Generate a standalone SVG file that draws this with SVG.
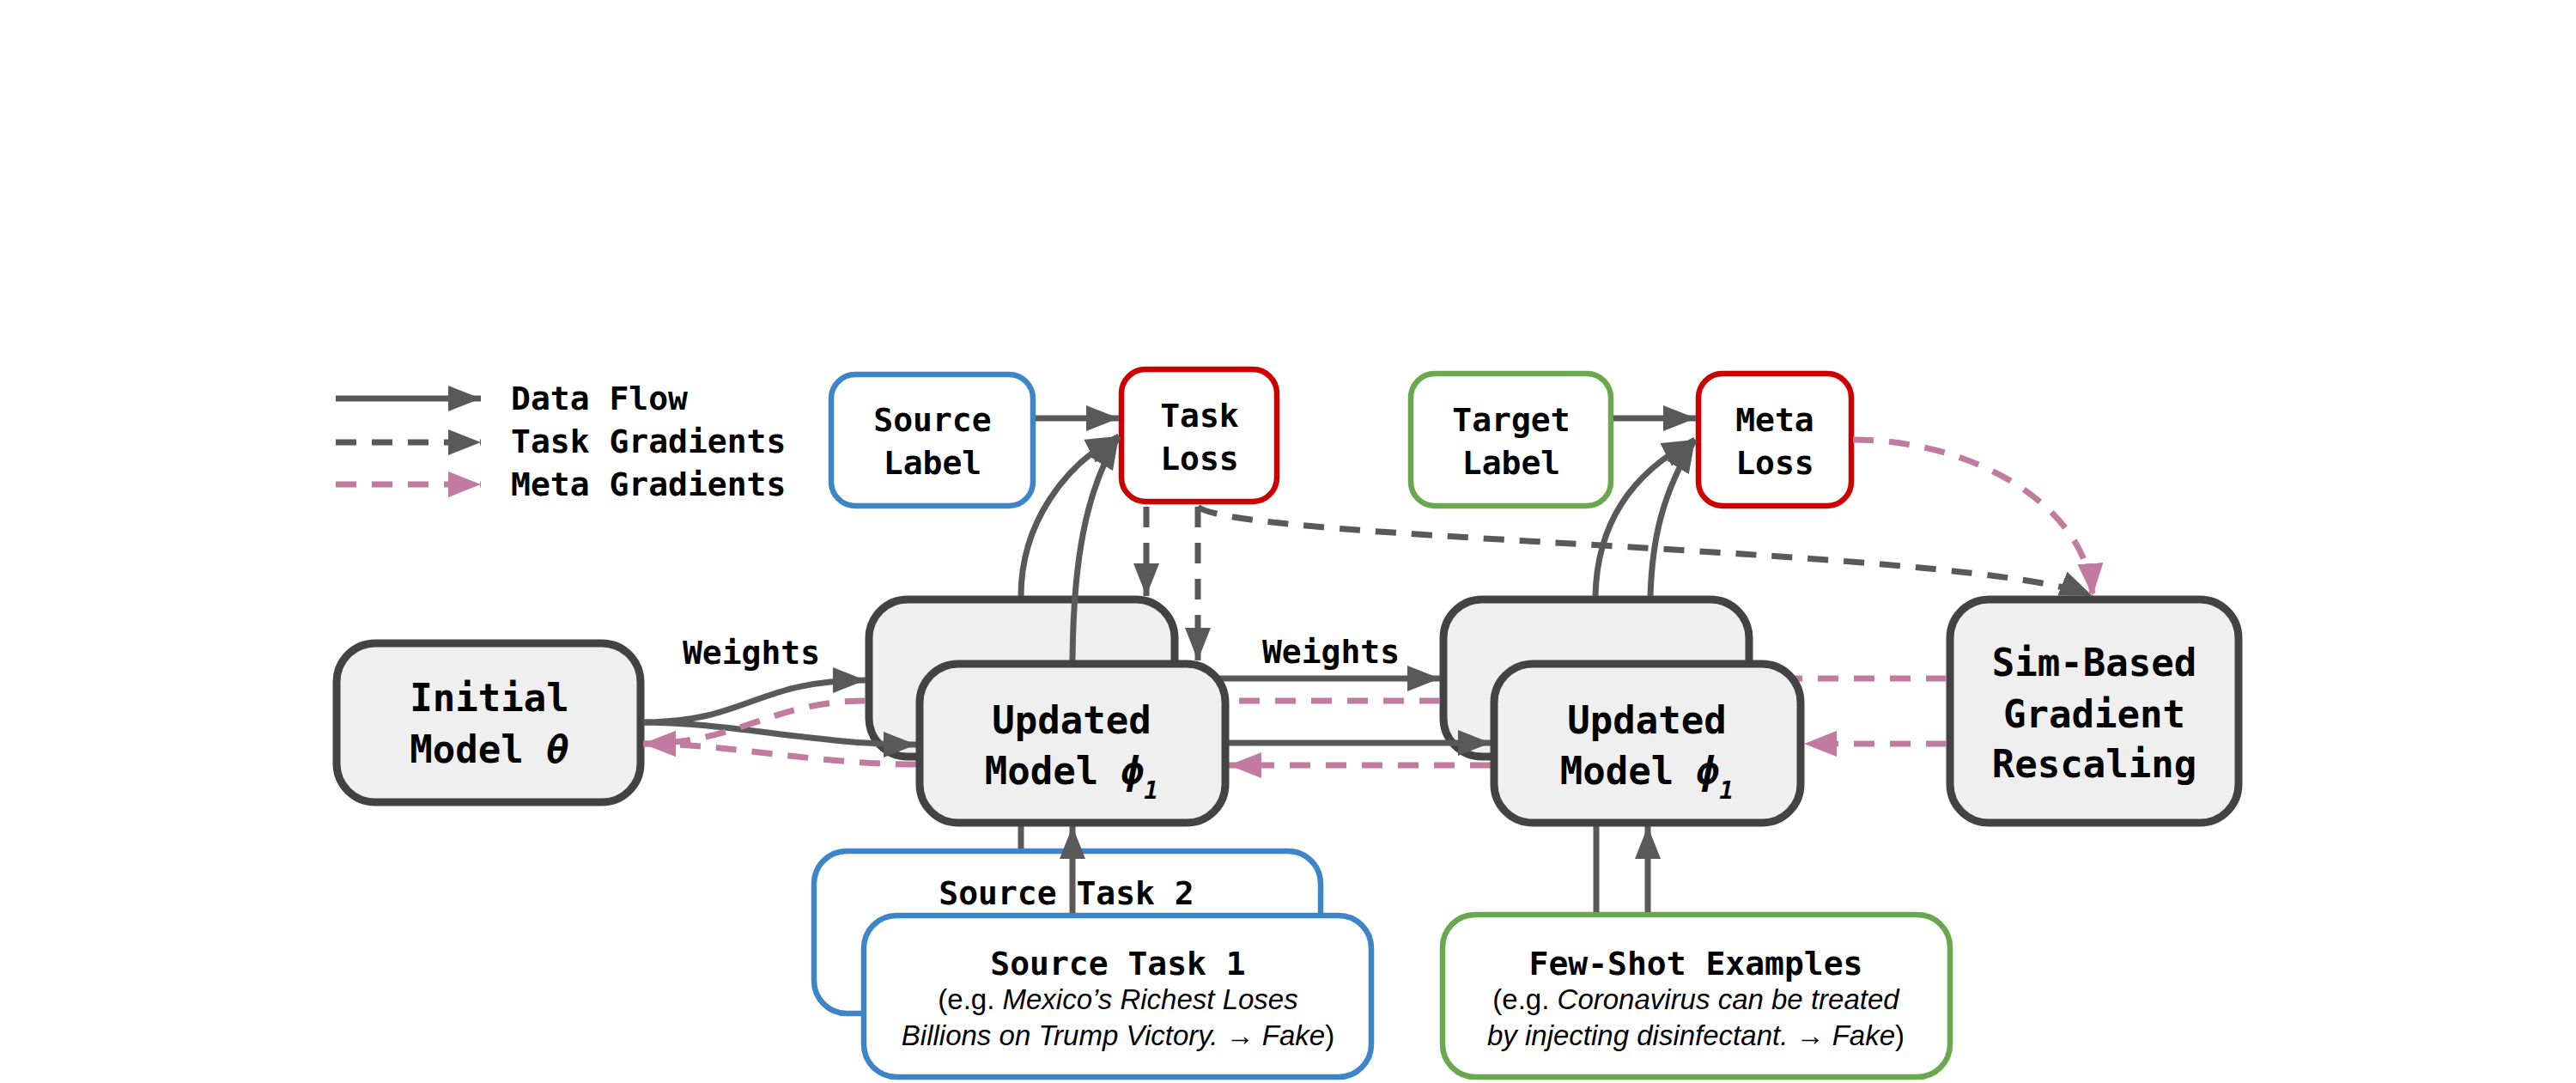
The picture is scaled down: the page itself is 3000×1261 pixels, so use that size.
<svg xmlns="http://www.w3.org/2000/svg" width="3000" height="1261" viewBox="0 0 3000 1261">
<style>
.mono{font-family:"DejaVu Sans Mono","Liberation Mono",monospace;font-weight:bold;fill:#000}
.big{font-size:44px}
.med{font-size:38px}
.sans{font-family:"Liberation Sans",Arial,sans-serif;font-size:33px;fill:#000}
.it{font-style:italic}
.model{fill:#efefef;stroke:#434343;stroke-width:9}
.blue{fill:#fff;stroke:#3d85c6;stroke-width:6.5}
.red{fill:#fff;stroke:#cc0000;stroke-width:6.5}
.green{fill:#fff;stroke:#6aa84f;stroke-width:6.5}
.flow{fill:none;stroke:#595959;stroke-width:7}
.task{fill:none;stroke:#595959;stroke-width:7;stroke-dasharray:24 18}
.meta{fill:none;stroke:#c27ba0;stroke-width:7;stroke-dasharray:24 18}
</style>
<defs>
<marker id="ag" markerUnits="userSpaceOnUse" markerWidth="38" markerHeight="30" refX="38" refY="15" orient="auto"><path d="M0,0 L38,15 L0,30 z" fill="#595959"/></marker>
<marker id="ap" markerUnits="userSpaceOnUse" markerWidth="38" markerHeight="30" refX="38" refY="15" orient="auto"><path d="M0,0 L38,15 L0,30 z" fill="#c27ba0"/></marker>
</defs>
<rect width="3000" height="1261" fill="#fff"/>

<g id="legend">
<path class="flow" d="M391,464 L560,464" marker-end="url(#ag)"/>
<path class="task" d="M391,515 L560,515" marker-end="url(#ag)"/>
<path class="meta" d="M391,564 L560,564" marker-end="url(#ap)"/>
<text class="mono med" x="595" y="477">Data Flow</text>
<text class="mono med" x="595" y="527">Task Gradients</text>
<text class="mono med" x="595" y="577">Meta Gradients</text>
</g>

<g id="source-label"><rect class="blue" x="968" y="436" width="235" height="153" rx="28"/>
<text class="mono med" text-anchor="middle" x="1086" y="502">Source</text>
<text class="mono med" text-anchor="middle" x="1086" y="552">Label</text></g>

<g id="task-loss"><rect class="red" x="1306" y="430" width="181" height="154" rx="28"/>
<text class="mono med" text-anchor="middle" x="1397" y="497">Task</text>
<text class="mono med" text-anchor="middle" x="1397" y="547">Loss</text></g>

<g id="target-label"><rect class="green" x="1643" y="435" width="233" height="154" rx="28"/>
<text class="mono med" text-anchor="middle" x="1760" y="502">Target</text>
<text class="mono med" text-anchor="middle" x="1760" y="552">Label</text></g>

<g id="meta-loss"><rect class="red" x="1978" y="435" width="178" height="154" rx="28"/>
<text class="mono med" text-anchor="middle" x="2067" y="502">Meta</text>
<text class="mono med" text-anchor="middle" x="2067" y="552">Loss</text></g>

<g id="initial-model"><rect class="model" x="392" y="749" width="354" height="185" rx="45"/>
<text class="mono big" text-anchor="middle" x="570" y="828">Initial</text>
<text class="mono big" text-anchor="middle" x="570" y="888">Model <tspan class="it">θ</tspan></text></g>

<g id="updated-model-1-back"><rect class="model" x="1012" y="698" width="356" height="183" rx="45"/></g>
<g id="updated-model-2-back"><rect class="model" x="1681" y="698" width="356" height="183" rx="45"/></g>

<g id="sim-based"><rect class="model" x="2271" y="698" width="336" height="260" rx="45"/>
<text class="mono big" text-anchor="middle" x="2439" y="787">Sim-Based</text>
<text class="mono big" text-anchor="middle" x="2439" y="847">Gradient</text>
<text class="mono big" text-anchor="middle" x="2439" y="905">Rescaling</text></g>

<g id="source-task-2"><rect class="blue" x="948" y="991" width="590" height="189" rx="38"/>
<text class="mono med" text-anchor="middle" x="1242" y="1053">Source Task 2</text></g>

<g id="source-task-1"><rect class="blue" x="1006" y="1066" width="591" height="188" rx="38"/>
<text class="mono med" text-anchor="middle" x="1302" y="1135">Source Task 1</text>
<text class="sans" text-anchor="middle" x="1302" y="1175">(e.g. <tspan class="it">Mexico’s Richest Loses</tspan></text>
<text class="sans" text-anchor="middle" x="1302" y="1217"><tspan class="it">Billions on Trump Victory.</tspan> → <tspan class="it">Fake</tspan>)</text></g>

<g id="few-shot"><rect class="green" x="1680" y="1065" width="591" height="189" rx="38"/>
<text class="mono med" text-anchor="middle" x="1975" y="1135">Few-Shot Examples</text>
<text class="sans" text-anchor="middle" x="1975" y="1175">(e.g. <tspan class="it">Coronavirus can be treated</tspan></text>
<text class="sans" text-anchor="middle" x="1975" y="1217"><tspan class="it">by injecting disinfectant.</tspan> → <tspan class="it">Fake</tspan>)</text></g>

<g id="connectors">
<path class="flow" d="M1206,487 L1303,487" marker-end="url(#ag)"/>
<path class="flow" d="M1879,487 L1975,487" marker-end="url(#ag)"/>
<path class="flow" d="M1189,694 C1189,610 1240,540 1303,508" marker-end="url(#ag)"/>
<path class="flow" d="M1249,769 C1250,650 1265,570 1303,508" marker-end="url(#ag)"/>
<path class="flow" d="M1858,694 C1860,600 1910,545 1974,512" marker-end="url(#ag)"/>
<path class="flow" d="M1922,694 C1924,630 1935,575 1974,512" marker-end="url(#ag)"/>
<path class="task" d="M1335,590 L1335,694" marker-end="url(#ag)"/>
<path class="task" d="M1395,590 L1395,769" marker-end="url(#ag)"/>
<path class="task" d="M1395,590 C1440,630 2300,638 2437,694" marker-end="url(#ag)"/>
<path class="meta" d="M2158,512 C2300,512 2430,590 2437,694" marker-end="url(#ap)"/>
<path class="flow" d="M749,841 C870,841 880,792 1008,792" marker-end="url(#ag)"/>
<path class="flow" d="M749,841 C850,841 950,867 1067,867" marker-end="url(#ag)"/>
<path class="meta" d="M1008,816 C900,816 860,866 749,866" marker-end="url(#ap)"/>
<path class="meta" d="M1067,890 C950,890 850,866 749,866" marker-end="url(#ap)"/>
<path class="flow" d="M1420,790 L1677,790" marker-end="url(#ag)"/>
<path class="flow" d="M1420,865 L1736,865" marker-end="url(#ag)"/>
<path class="meta" d="M1677,816 L1420,816"/>
<path class="meta" d="M1736,891 L1431,891" marker-end="url(#ap)"/>
<path class="meta" d="M2267,790 L2090,790"/>
<path class="meta" d="M2267,866 L2101,866" marker-end="url(#ap)"/>
<path class="flow" d="M1189,988 L1189,950"/>
<path class="flow" d="M1249,1063 L1249,962" marker-end="url(#ag)"/>
<path class="flow" d="M1859,1062 L1859,950"/>
<path class="flow" d="M1919,1062 L1919,962" marker-end="url(#ag)"/>
</g>

<g id="updated-model-1"><rect class="model" x="1071" y="773" width="356" height="185" rx="45"/>
<text class="mono big" text-anchor="middle" x="1248" y="854">Updated</text>
<text class="mono big" text-anchor="middle" x="1248" y="913">Model <tspan class="it">ϕ</tspan><tspan class="it" font-size="28" dy="17">1</tspan></text></g>

<g id="updated-model-2"><rect class="model" x="1740" y="773" width="357" height="185" rx="45"/>
<text class="mono big" text-anchor="middle" x="1918" y="854">Updated</text>
<text class="mono big" text-anchor="middle" x="1918" y="913">Model <tspan class="it">ϕ</tspan><tspan class="it" font-size="28" dy="17">1</tspan></text></g>

<g id="weights-labels">
<text class="mono med" text-anchor="middle" x="875" y="773">Weights</text>
<text class="mono med" text-anchor="middle" x="1550" y="772">Weights</text>
</g>
</svg>
